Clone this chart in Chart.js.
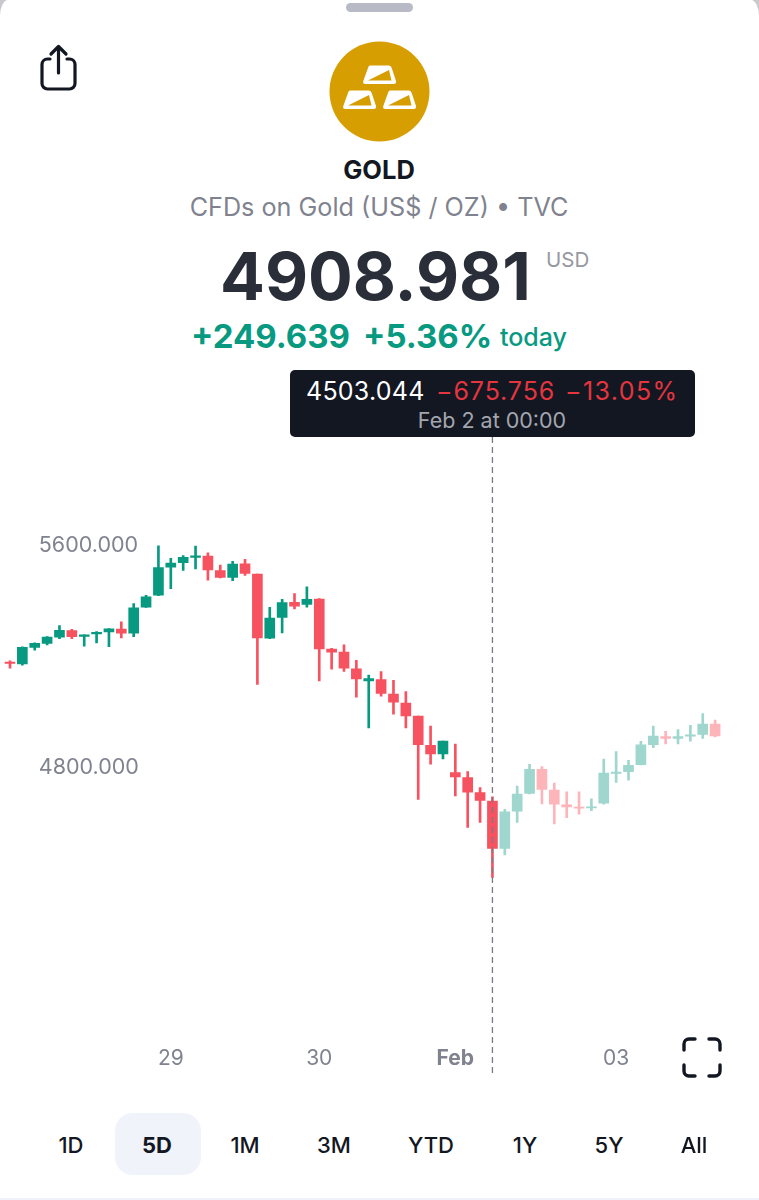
<!DOCTYPE html>
<html>
<head>
<meta charset="utf-8">
<title>GOLD</title>
<script src="https://cdn.jsdelivr.net/npm/chart.js@4"></script>
<style>
html, body { margin: 0; padding: 0; background: #c9c9cd; }
body { position: relative; width: 759px; height: 1200px; overflow: hidden; font-family: Inter, "Noto Sans", sans-serif; }
#sheet { position: absolute; left: 0; top: 0; width: 759px; height: 1200px; background: #fff; border-radius: 8px 8px 0 0 / 16px 16px 0 0; }
.t { position: absolute; white-space: nowrap; line-height: 1; }
.c { transform: translateX(-50%); }
#handle { position: absolute; left: 346px; top: 3px; width: 67px; height: 9px; border-radius: 5px; background: #b8bac6; }
#tip { position: absolute; left: 290px; top: 370px; width: 405px; height: 67px; border-radius: 5px; background: #131722; }
#active { position: absolute; left: 115px; top: 1113px; width: 86px; height: 62px; border-radius: 18px; background: #f0f3fa; }
#foot { position: absolute; left: 0; top: 1198px; width: 759px; height: 2px; background: #f0f3fa; }
#chart { position: absolute; left: 0; top: 437px; }
svg { position: absolute; }
.btn { font-size: 22px; color: #131722; top: 1134px; font-weight: 500; }
</style>
</head>
<body>
<div id="sheet"></div>
<div id="handle"></div>

<svg style="left:38px;top:42px" width="42" height="50" viewBox="0 0 42 50" fill="none" stroke="#131722" stroke-width="3.2" stroke-linecap="round" stroke-linejoin="round">
  <path d="M12 17H9.5A5.5 5.5 0 0 0 4 22.5V41.5A5.5 5.5 0 0 0 9.5 47H31.5A5.5 5.5 0 0 0 37 41.5V22.5A5.5 5.5 0 0 0 31.5 17H29"/>
  <path d="M20.5 31V5M13 12L20.5 4.5L28 12"/>
</svg>

<svg style="left:329px;top:41px" width="101" height="101" viewBox="0 0 101 101">
  <defs>
    <g id="bar">
      <path d="M7 0.5H26Q28 0.5 28.7 3L33 16Q33.6 19 30.5 19H2.5Q-0.6 19 0.3 16L5 3Q5.5 0.5 7 0.5Z" fill="#fff"/>
      <path d="M5 15.5L26 5L28.5 15.5Z" fill="#d69e00"/>
    </g>
  </defs>
  <circle cx="50.5" cy="50.5" r="50" fill="#d69e00"/>
  <use href="#bar" x="34" y="24"/>
  <use href="#bar" x="14" y="49"/>
  <use href="#bar" x="54" y="49"/>
</svg>

<div class="t c" style="left:379px;top:157px;font-size:25.5px;font-weight:700;color:#131722">GOLD</div>
<div class="t c" style="left:379px;top:195px;font-size:25.2px;color:#80838f">CFDs on Gold (US$ / OZ) • TVC</div>
<div class="t" style="left:220px;top:243px;font-size:66.4px;font-weight:700;color:#2a2e39">4908.981</div>
<div class="t" style="left:546px;top:250px;font-size:20.5px;color:#9598a1">USD</div>
<div class="t" style="left:191px;top:320px;font-size:33px;font-weight:700;color:#089981">+249.639</div>
<div class="t" style="left:363px;top:320px;font-size:33px;font-weight:700;color:#089981">+5.36%</div>
<div class="t" style="left:500px;top:325px;font-size:25px;font-weight:500;color:#089981">today</div>

<div id="tip"></div>
<div class="t" style="left:306px;top:379px;font-size:25px;letter-spacing:0.25px;color:#fff">4503.044</div>
<div class="t" style="left:436px;top:379px;font-size:25px;letter-spacing:0.9px;color:#e5353f">−675.756</div>
<div class="t" style="left:565px;top:379px;font-size:25px;letter-spacing:1.4px;color:#e5353f">−13.05%</div>
<div class="t c" style="left:492px;top:410px;font-size:21.5px;color:#a3a6af">Feb 2 at 00:00</div>

<canvas id="chart" width="759" height="643"></canvas>

<svg style="left:681px;top:1036px" width="42" height="43" viewBox="0 0 42 43" fill="none" stroke="#131722" stroke-width="3.4" stroke-linecap="round">
  <path d="M3 14V8A5 5 0 0 1 8 3H14M28 3H34A5 5 0 0 1 39 8V14M3 29V35A5 5 0 0 0 8 40H14M39 29V35A5 5 0 0 1 34 40H28"/>
</svg>

<div id="active"></div>
<div class="t c btn" style="left:71px">1D</div>
<div class="t c btn" style="left:157px;font-weight:700">5D</div>
<div class="t c btn" style="left:245px">1M</div>
<div class="t c btn" style="left:334px">3M</div>
<div class="t c btn" style="left:431px">YTD</div>
<div class="t c btn" style="left:525px">1Y</div>
<div class="t c btn" style="left:609px">5Y</div>
<div class="t c btn" style="left:694px">All</div>
<div id="foot"></div>

<script>
const categories = ['', '', '', '', '', '', '', '', '', '', '', '', '', '29', '', '', '', '', '', '', '', '', '', '', '', '30', '', '', '', '', '', '', '', '', '', '', 'Feb', '', '', '', '', '', '', '', '', '', '', '', '', '03', '', '', '', '', '', '', '', ''];
const opens = [5175, 5168, 5228, 5242, 5265, 5288, 5267, 5276, 5284, 5294, 5279, 5373, 5416, 5517, 5533, 5552, 5557, 5505, 5480, 5529, 5492, 5261, 5336, 5390, 5383, 5402, 5222, 5211, 5151, 5107, 5112, 5060, 5027, 4980, 4875, 4844, 4777, 4759, 4705, 4674, 4503, 4638, 4702, 4788, 4714, 4660, 4652, 4649, 4666, 4774, 4780, 4805, 4877, 4906, 4900, 4908, 4914, 4951];
const highs = [5179, 5230, 5244, 5267, 5306, 5293, 5273, 5285, 5296, 5320, 5386, 5415, 5594, 5549, 5559, 5593, 5569, 5524, 5538, 5545, 5492, 5372, 5401, 5422, 5446, 5404, 5224, 5237, 5181, 5128, 5141, 5109, 5069, 4980, 4944, 4890, 4879, 4780, 4723, 4689, 4644, 4728, 4806, 4798, 4739, 4707, 4707, 4682, 4825, 4852, 4821, 4889, 4944, 4925, 4932, 4947, 4989, 4966];
const lows = [5153, 5164, 5218, 5237, 5259, 5259, 5232, 5244, 5230, 5262, 5266, 5372, 5414, 5439, 5505, 5511, 5470, 5478, 5468, 5487, 5094, 5259, 5280, 5366, 5373, 5107, 5149, 5141, 5048, 4938, 5052, 4987, 4938, 4680, 4807, 4826, 4693, 4579, 4597, 4399, 4480, 4597, 4700, 4664, 4592, 4614, 4627, 4639, 4663, 4741, 4749, 4804, 4866, 4880, 4880, 4890, 4900, 4905];
const closes = [5170, 5228, 5242, 5265, 5289, 5266, 5273, 5282, 5295, 5279, 5370, 5410, 5515, 5532, 5552, 5558, 5507, 5480, 5528, 5494, 5262, 5333, 5389, 5376, 5401, 5222, 5211, 5153, 5114, 5115, 5062, 5030, 4981, 4877, 4844, 4890, 4761, 4706, 4676, 4503, 4635, 4699, 4788, 4716, 4663, 4653, 4648, 4653, 4775, 4777, 4803, 4877, 4908, 4900, 4906, 4912, 4951, 4909];
const yTicks = [5600, 4800];
const selectedCandle = 39;

const upColor = '#089981', downColor = '#f7525f';
const upFaded = '#9fd6cd', downFaded = '#fdb5ba';

function candleColor(i) {
    const up = closes[i] >= opens[i];
    if (i > selectedCandle) return up ? upFaded : downFaded;
    return up ? upColor : downColor;
}
const colors = categories.map((c, i) => candleColor(i));

// dashed crosshair on the selected candle, over the candles and down through the axis
const crosshair = {
    id: 'crosshair',
    afterDatasetsDraw(chart) {
        const ctx = chart.ctx;
        const x = chart.scales.x.getPixelForValue(selectedCandle);
        ctx.save();
        ctx.strokeStyle = '#787b86';
        ctx.lineWidth = 1.3;
        ctx.setLineDash([6, 4]);
        ctx.beginPath();
        ctx.moveTo(x, 0);
        ctx.lineTo(x, 640);
        ctx.stroke();
        ctx.restore();
    }
};

// tick padding must not eat into the chart area
function noScalePadding(scale) {
    scale.paddingTop = 0;
    scale.paddingBottom = 0;
    scale.paddingLeft = 0;
    scale.paddingRight = 0;
}

new Chart(document.getElementById('chart').getContext('2d'), {
    type: 'bar',
    data: {
        labels: categories,
        datasets: [
            {
                label: 'Body',
                data: categories.map((c, i) => [opens[i], closes[i]]),
                backgroundColor: colors,
                barThickness: 10,
                grouped: false,
                minBarLength: 1.3
            },
            {
                label: 'Wick',
                data: categories.map((c, i) => [lows[i], highs[i]]),
                backgroundColor: colors,
                barThickness: 2,
                grouped: false
            }
        ]
    },
    plugins: [crosshair],
    options: {
        responsive: false,
        animation: false,
        layout: { padding: { left: 3.8, right: 37.7, top: 0, bottom: 0 } },
        plugins: { legend: { display: false }, tooltip: { enabled: false } },
        scales: {
            x: {
                grid: { display: false },
                border: { display: false },
                afterFit(scale) { scale.height = 50; noScalePadding(scale); },
                ticks: {
                    autoSkip: false,
                    maxRotation: 0,
                    padding: 8,
                    color: '#80838f',
                    font: ctx => ({ family: 'Inter', size: 21, weight: ctx.tick.label === 'Feb' ? '700' : '400' })
                }
            },
            y: {
                min: 3849,
                max: 5986,
                grid: { display: false },
                border: { display: false },
                afterFit(scale) { scale.width = 0; noScalePadding(scale); },
                afterBuildTicks(scale) { scale.ticks = yTicks.map(v => ({ value: v })); },
                ticks: {
                    mirror: true,
                    padding: 35,
                    labelOffset: 1,
                    color: '#80838f',
                    font: { family: 'Inter', size: 21.5 },
                    callback: v => v.toFixed(3)
                }
            }
        }
    }
});
</script>
</body>
</html>
